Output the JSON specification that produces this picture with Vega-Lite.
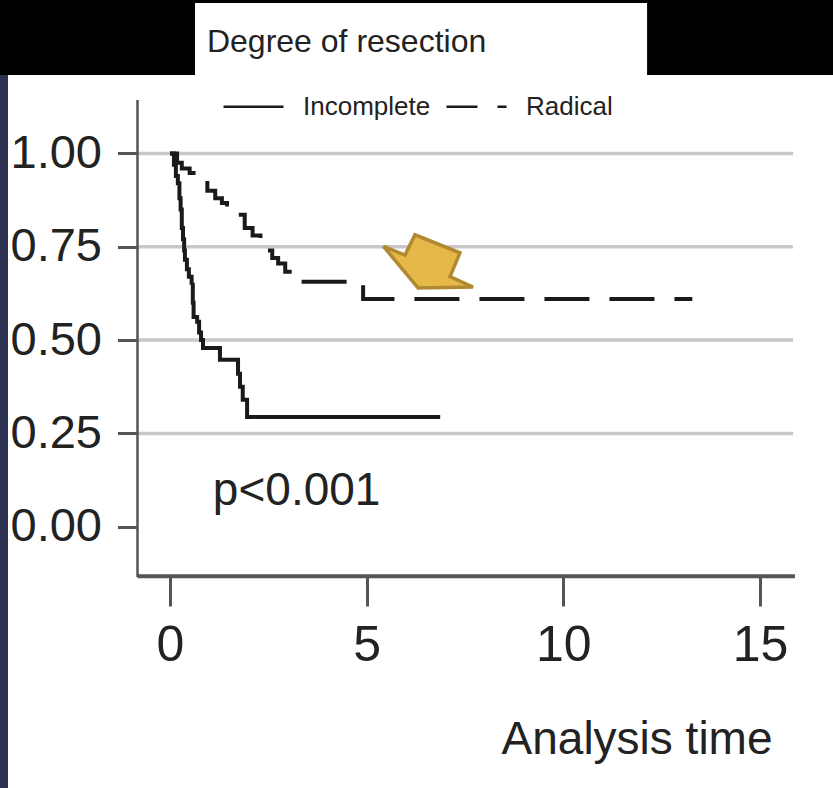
{
  "$schema": "https://vega.github.io/schema/vega-lite/v6.json",
  "width": 833,
  "height": 713,
  "autosize": {"type": "none"},
  "padding": {"left": 0, "top": 75, "right": 0, "bottom": 0},
  "background": "#000000",
  "view": {"fill": "#ffffff", "stroke": null},
  "config": {"font": "Liberation Sans"},
  "layer": [
    {
      "data": {"values": [{}]},
      "mark": {"type": "rect", "color": "#2c3050"},
      "encoding": {
        "x": {"datum": -4.322, "type": "quantitative", "scale": {"domain": [-4.322, 16.857], "nice": false, "zero": false}, "axis": {
          "orient": "bottom", "offset": -212, "values": [0, 5, 10, 15], "domain": false, "grid": false,
          "tickSize": 30, "tickWidth": 3, "tickColor": "#555555",
          "labelFont": "Liberation Sans", "labelFontSize": 50, "labelColor": "#222222", "labelPadding": 14,
          "title": "Analysis time", "titleFont": "Liberation Sans", "titleFontSize": 46, "titleFontWeight": "normal", "titleColor": "#222222",
          "titleAlign": "right", "titleBaseline": "alphabetic", "titleX": 772, "titleY": 177, "titleAngle": 0
        }},
        "x2": {"datum": -4.119},
        "y": {"datum": -0.7002, "type": "quantitative", "scale": {"domain": [-0.7002, 1.2103], "nice": false, "zero": false}, "axis": {
          "orient": "left", "offset": -137.5, "values": [0, 0.25, 0.5, 0.75, 1], "format": ".2f", "domain": false, "grid": false,
          "tickSize": 20, "tickWidth": 3, "tickColor": "#555555",
          "labelFont": "Liberation Sans", "labelFontSize": 47, "labelColor": "#222222", "labelPadding": 16,
          "title": null
        }},
        "y2": {"datum": 1.2103}
      }
    },
    {
      "data": {"values": [{}]},
      "mark": {"type": "rect", "color": "#ffffff"},
      "encoding": {
        "x": {"datum": 0.636, "type": "quantitative"},
        "x2": {"datum": 12.13},
        "y": {"datum": 1.2, "type": "quantitative"},
        "y2": {"datum": 1.403}
      }
    },
    {
      "data": {"values": [{}]},
      "mark": {"type": "text", "align": "left", "baseline": "alphabetic", "fontSize": 32, "color": "#222222", "font": "Liberation Sans"},
      "encoding": {
        "x": {"datum": 0.94, "type": "quantitative"},
        "y": {"datum": 1.272, "type": "quantitative"},
        "text": {"value": "Degree of resection"}
      }
    },
    {
      "data": {"values": [{"v": 0.25}, {"v": 0.5}, {"v": 0.75}, {"v": 1.0}]},
      "mark": {"type": "rule", "color": "#c8c8c8", "strokeWidth": 3.5},
      "encoding": {
        "y": {"field": "v", "type": "quantitative"},
        "x": {"datum": -0.826, "type": "quantitative"},
        "x2": {"datum": 15.84}
      }
    },
    {
      "data": {"values": [{}]},
      "mark": {"type": "rule", "color": "#555555", "strokeWidth": 2.5},
      "encoding": {
        "x": {"datum": -0.826, "type": "quantitative"},
        "y": {"datum": -0.135, "type": "quantitative"},
        "y2": {"datum": 1.143}
      }
    },
    {
      "data": {"values": [{}]},
      "mark": {"type": "rule", "color": "#555555", "strokeWidth": 4},
      "encoding": {
        "y": {"datum": -0.133, "type": "quantitative"},
        "x": {"datum": -0.826, "type": "quantitative"},
        "x2": {"datum": 15.89}
      }
    },
    {
      "data": {"values": [
        {"group": "Incomplete", "t": 0, "s": 1.0},
        {"group": "Incomplete", "t": 0.1, "s": 0.97},
        {"group": "Incomplete", "t": 0.15, "s": 0.94},
        {"group": "Incomplete", "t": 0.2, "s": 0.92},
        {"group": "Incomplete", "t": 0.24, "s": 0.88},
        {"group": "Incomplete", "t": 0.27, "s": 0.85},
        {"group": "Incomplete", "t": 0.3, "s": 0.8},
        {"group": "Incomplete", "t": 0.33, "s": 0.77},
        {"group": "Incomplete", "t": 0.36, "s": 0.74},
        {"group": "Incomplete", "t": 0.38, "s": 0.715},
        {"group": "Incomplete", "t": 0.43, "s": 0.69},
        {"group": "Incomplete", "t": 0.48, "s": 0.67},
        {"group": "Incomplete", "t": 0.55, "s": 0.648},
        {"group": "Incomplete", "t": 0.58, "s": 0.6},
        {"group": "Incomplete", "t": 0.6, "s": 0.562},
        {"group": "Incomplete", "t": 0.69, "s": 0.549},
        {"group": "Incomplete", "t": 0.74, "s": 0.52},
        {"group": "Incomplete", "t": 0.79, "s": 0.5},
        {"group": "Incomplete", "t": 0.84, "s": 0.479},
        {"group": "Incomplete", "t": 1.27, "s": 0.447},
        {"group": "Incomplete", "t": 1.73, "s": 0.41},
        {"group": "Incomplete", "t": 1.78, "s": 0.375},
        {"group": "Incomplete", "t": 1.85, "s": 0.34},
        {"group": "Incomplete", "t": 1.96, "s": 0.294},
        {"group": "Incomplete", "t": 6.87, "s": 0.294},
        {"group": "Radical", "t": 0, "s": 1.0},
        {"group": "Radical", "t": 0.18, "s": 0.975},
        {"group": "Radical", "t": 0.3, "s": 0.96},
        {"group": "Radical", "t": 0.5, "s": 0.948},
        {"group": "Radical", "t": 0.95, "s": 0.9},
        {"group": "Radical", "t": 1.15, "s": 0.88},
        {"group": "Radical", "t": 1.32, "s": 0.867},
        {"group": "Radical", "t": 1.45, "s": 0.854},
        {"group": "Radical", "t": 1.6, "s": 0.836},
        {"group": "Radical", "t": 1.9, "s": 0.8},
        {"group": "Radical", "t": 2.1, "s": 0.78},
        {"group": "Radical", "t": 2.3, "s": 0.76},
        {"group": "Radical", "t": 2.45, "s": 0.74},
        {"group": "Radical", "t": 2.6, "s": 0.72},
        {"group": "Radical", "t": 2.75, "s": 0.705},
        {"group": "Radical", "t": 2.93, "s": 0.683},
        {"group": "Radical", "t": 3.18, "s": 0.656},
        {"group": "Radical", "t": 4.91, "s": 0.61},
        {"group": "Radical", "t": 13.28, "s": 0.61}
      ]},
      "mark": {"type": "line", "interpolate": "step-after", "color": "#1a1a1a", "strokeWidth": 4},
      "encoding": {
        "x": {"field": "t", "type": "quantitative"},
        "y": {"field": "s", "type": "quantitative"},
        "strokeDash": {
          "field": "group", "type": "nominal",
          "scale": {"domain": ["Incomplete", "Radical"], "range": [[1, 0], [45, 20]]},
          "legend": {
            "orient": "none", "legendX": 222, "legendY": 0, "direction": "horizontal", "title": null,
            "symbolType": "stroke", "symbolSize": 3600, "symbolStrokeWidth": 2.5, "symbolStrokeColor": "#1a1a1a",
            "symbolDashOffset": 14,
            "labelFont": "Liberation Sans", "labelFontSize": 26, "labelColor": "#222222", "labelOffset": 18,
            "columnPadding": 10, "padding": 0
          }
        }
      }
    },
    {
      "data": {"values": [{}]},
      "mark": {"type": "text", "align": "left", "baseline": "alphabetic", "fontSize": 46, "color": "#222222", "font": "Liberation Sans"},
      "encoding": {
        "x": {"datum": 1.09, "type": "quantitative"},
        "y": {"datum": 0.058, "type": "quantitative"},
        "text": {"value": "p<0.001"}
      }
    },
    {
      "data": {"values": [{}]},
      "mark": {"type": "point", "filled": true, "shape": "M-0.99,-0.33L-0.51,-0.14L-0.29,-0.59L0.71,-0.19L0.49,0.34L1,0.57L-0.22,0.59Z", "size": 8100, "fill": "#e6b84a", "stroke": "#b08a30", "strokeWidth": 3.5, "opacity": 1, "fillOpacity": 1, "strokeOpacity": 1},
      "encoding": {
        "x": {"datum": 6.56, "type": "quantitative"},
        "y": {"datum": 0.711, "type": "quantitative"}
      }
    }
  ]
}
